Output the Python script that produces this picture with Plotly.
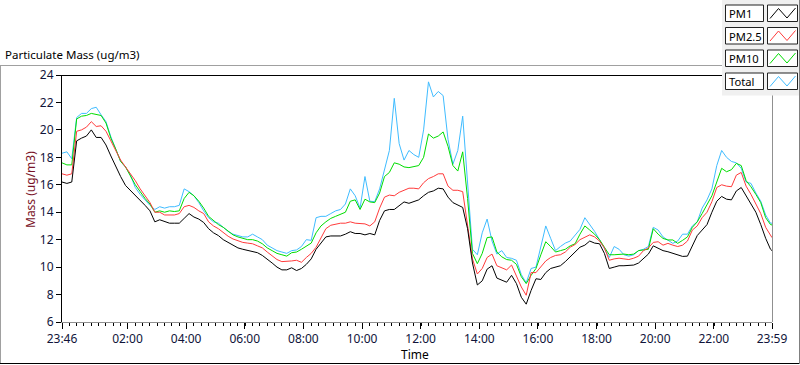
import plotly.graph_objects as go
import pandas as pd

# ---------------- data ----------------
start_time = "2024-01-01 23:46"
sample_minutes = list(range(0, 1451, 10)) + [1453]   # minutes after start

pm1 = [16.2, 16.1, 16.2, 19.2, 19.4, 19.55, 20.0, 19.45, 19.45, 18.9,
       18.1, 17.3, 16.6, 15.95, 15.6, 15.2, 14.85, 14.5, 14.1, 13.3,
       13.45, 13.3, 13.2, 13.2, 13.2, 13.55, 13.9, 13.65, 13.5, 13.25,
       12.8, 12.5, 12.3, 12.0, 11.8, 11.6, 11.4, 11.3, 11.2, 11.15,
       11.05, 10.85, 10.6, 10.3, 10.0, 9.8, 9.8, 9.95, 9.75, 9.9,
       10.2, 10.6, 11.3, 11.75, 12.2, 12.27, 12.27, 12.27, 12.4, 12.58,
       12.45, 12.45, 12.35, 12.45, 12.35, 13.4, 14.1, 14.2, 14.2, 14.5,
       14.75, 14.65, 14.75, 14.9, 15.2, 15.45, 15.55, 15.75, 15.7, 15.1,
       14.7, 14.55, 14.35, 12.8, 10.3, 8.7, 9.0, 9.85, 10.1, 9.2,
       9.06, 8.9, 9.4, 8.8, 7.8, 7.3, 8.3, 9.15, 9.1, 9.6,
       9.9, 10.0, 10.1, 10.4, 10.75, 11.05, 11.45, 11.6, 11.9, 11.75,
       11.7, 11.0, 9.9, 10.0, 10.1, 10.1, 10.15, 10.15, 10.3, 10.6,
       10.95, 11.55, 11.4, 11.2, 11.12, 11.0, 10.85, 10.78, 10.8, 11.6,
       12.3, 12.7, 13.1, 14.0, 14.8, 15.15, 14.95, 14.9, 15.55, 15.8,
       15.2, 14.6, 14.0, 13.1, 12.1, 11.3, 11.2]

pm25 = [16.8, 16.7, 16.8, 19.9, 20.0, 20.2, 20.6, 20.25, 20.3, 19.9,
        19.2, 18.5, 17.8, 17.3, 16.8, 16.3, 15.7, 15.2, 14.7, 14.0,
        14.0, 13.8, 13.8, 13.8, 13.9, 14.4, 14.5, 14.35, 14.1, 13.9,
        13.3, 13.0, 12.8, 12.5, 12.25, 12.05, 11.9, 11.8, 11.75, 11.7,
        11.55, 11.4, 11.1, 10.85, 10.55, 10.4, 10.4, 10.45, 10.5, 10.35,
        10.7, 11.0, 11.45, 12.1, 12.8, 13.05, 13.15, 13.2, 13.2, 13.3,
        13.2, 13.2, 13.15, 13.0, 13.3, 14.3, 15.1, 15.25, 15.2, 15.45,
        15.6, 15.75, 15.75, 15.7, 16.15, 16.45, 16.6, 16.8, 16.8, 15.9,
        15.6, 15.6, 15.5, 12.95, 10.6, 9.5, 9.9, 10.7, 10.95, 10.1,
        9.95, 9.8, 10.15, 9.4, 8.55, 7.95, 9.6, 9.6, 10.0, 10.45,
        10.7, 10.85, 10.9, 11.1, 11.45, 11.65, 12.0, 12.15, 12.35, 12.2,
        11.9, 11.4, 10.5, 10.6, 10.65, 10.6, 10.55, 10.65, 10.8, 11.2,
        11.4, 11.8, 11.85, 11.6, 11.73, 11.6, 11.5, 11.6, 11.9, 12.7,
        13.0, 13.6, 14.0, 14.77, 15.8, 16.0, 15.9, 15.86, 16.7, 16.9,
        15.9, 15.3, 14.6, 13.9, 12.9, 12.3, 12.15]

pm10 = [17.6, 17.45, 17.45, 20.8, 21.0, 21.05, 21.2, 21.1, 21.05, 20.5,
        19.4, 18.6, 17.7, 17.3, 16.6, 16.0, 15.5, 15.0, 14.6, 14.0,
        14.1, 14.0, 14.1, 14.05, 14.1, 15.0, 15.45, 15.2, 14.8, 14.3,
        13.7, 13.4, 13.1, 12.9, 12.6, 12.35, 12.2, 12.1, 12.0, 12.0,
        11.9, 11.7, 11.4, 11.2, 11.0, 10.9, 10.8, 11.05, 11.1, 11.3,
        11.5, 11.75, 12.5, 13.0, 13.3, 13.55, 13.7, 13.85, 14.0, 14.8,
        14.9, 14.2, 14.95, 14.75, 14.7, 15.4, 16.6, 16.9, 17.6, 17.5,
        17.3, 17.25, 17.3, 17.4, 18.0, 19.7, 19.4, 19.55, 19.85, 18.8,
        17.4, 17.0, 18.4, 15.0, 11.0, 10.25, 11.0, 12.15, 12.2, 11.1,
        10.75, 10.55, 10.5, 10.2, 9.3, 8.8, 9.4, 9.9, 10.9, 11.85,
        11.5, 11.1, 11.2, 11.3, 11.55, 11.7, 12.4, 13.0, 12.7, 12.4,
        12.0, 11.4, 10.9, 10.9, 10.95, 10.95, 10.9, 10.95, 11.2, 11.24,
        11.3, 12.8, 12.4, 12.09, 11.98, 11.98, 11.73, 11.95, 12.2, 12.9,
        13.3, 13.9, 14.5, 15.2, 16.2, 17.2, 16.95, 17.1, 17.56, 17.4,
        16.3, 15.85, 15.3, 14.7, 13.6, 13.1, 13.07]

total = [18.3, 18.4, 17.9, 20.9, 21.2, 21.2, 21.55, 21.65, 21.1, 20.6,
         19.5, 18.6, 17.7, 17.3, 16.7, 15.8, 15.3, 14.9, 14.5, 14.2,
         14.4, 14.3, 14.4, 14.4, 14.5, 15.7, 15.5, 15.2, 14.7, 14.1,
         13.6, 13.3, 13.2, 12.9, 12.6, 12.4, 12.3, 12.2, 12.2, 12.4,
         12.2, 12.0, 11.6, 11.4, 11.2, 11.1, 11.0, 11.2, 11.25, 11.5,
         12.0, 11.95, 13.6, 13.7, 13.7, 13.9, 14.1, 14.2, 14.6, 15.7,
         15.2, 14.3, 16.6, 14.8, 14.77, 15.7, 17.2, 18.5, 22.3, 19.0,
         17.8, 18.5, 18.2, 18.0, 20.0, 23.5, 22.4, 22.8, 22.5, 19.3,
         17.5, 18.5, 21.0, 15.9, 11.3, 10.9, 12.5, 13.5, 11.9, 10.95,
         11.2, 10.7, 10.64, 10.5, 9.45, 8.85, 9.9, 10.0, 11.6, 13.0,
         12.1, 11.2, 11.5, 11.75, 11.9, 12.3, 12.75, 13.6, 13.1, 12.6,
         12.0, 11.3, 10.7, 11.5, 11.3, 10.9, 10.8, 10.9, 11.2, 11.3,
         11.5, 12.9, 12.7, 12.2, 11.98, 11.73, 11.9, 12.4, 12.4, 13.0,
         13.3, 14.3, 14.9, 15.7, 17.4, 18.5, 18.0, 17.7, 17.6, 17.2,
         16.2, 16.1, 15.4, 14.8, 13.8, 13.2, 13.2]

series_names = ["PM1", "PM2.5", "PM10", "Total"]
series_colors = ["#000000", "#ff3b3b", "#00dd00", "#3fbcff"]

tick_times = ["2024-01-01 23:46", "2024-01-02 02:00", "2024-01-02 04:00",
              "2024-01-02 06:00", "2024-01-02 08:00", "2024-01-02 10:00",
              "2024-01-02 12:00", "2024-01-02 14:00", "2024-01-02 16:00",
              "2024-01-02 18:00", "2024-01-02 20:00", "2024-01-02 22:00",
              "2024-01-02 23:59"]
tick_labels = ["23:46", "02:00", "04:00", "06:00", "08:00", "10:00", "12:00",
               "14:00", "16:00", "18:00", "20:00", "22:00", "23:59"]
y_ticks = [6, 8, 10, 12, 14, 16, 18, 20, 22, 24]

# ---------------- figure ----------------
W, H = 800, 365
L, R, T, B = 62, 772, 75, 322

def px(x):
    return (x - L) / (R - L)

def py(y):
    return (B - y) / (B - T)

t0 = pd.Timestamp(start_time)
times = [t0 + pd.Timedelta(minutes=m) for m in sample_minutes]

fig = go.Figure()
data = [pm1, pm25, pm10, total]
for name, vals, col in reversed(list(zip(series_names, data, series_colors))):
    fig.add_trace(go.Scatter(x=times, y=vals, mode="lines", name=name,
                             line=dict(color=col, width=1), showlegend=False,
                             hoverinfo="skip"))

FONT = "Noto Sans"
shapes = []

def hline(y, x0, x1, color, w=1):
    shapes.append(dict(type="line", xref="paper", yref="paper",
                       x0=px(x0), x1=px(x1), y0=py(y), y1=py(y),
                       line=dict(color=color, width=w)))

def vline(x, y0, y1, color, w=1):
    shapes.append(dict(type="line", xref="paper", yref="paper",
                       x0=px(x), x1=px(x), y0=py(y0), y1=py(y1),
                       line=dict(color=color, width=w)))

# outer frame
hline(65.5, 0, 722, "#a0a0a0")
vline(0.5, 65, 364, "#a0a0a0")
hline(363.5, 0, 800, "#000000")
vline(799.5, 0, 364, "#808080")
# plot frame (top / right)
hline(75.5, 62, 722, "#000000")
vline(772.5, 95, 322, "#909090")

# legend panel
shapes.append(dict(type="rect", xref="paper", yref="paper",
                   x0=px(722), x1=px(799), y0=py(0), y1=py(95.5),
                   fillcolor="#f0f0f0", line=dict(width=0), layer="above"))

annotations = []
row_tops = [5, 27.5, 50, 73]
row_h = 16.5
for name, col, top in zip(series_names, series_colors, row_tops):
    shapes.append(dict(type="rect", xref="paper", yref="paper",
                       x0=px(725.5), x1=px(763.5), y0=py(top), y1=py(top + row_h),
                       fillcolor="#ffffff", line=dict(color="#222222", width=1)))
    shapes.append(dict(type="rect", xref="paper", yref="paper",
                       x0=px(767.5), x1=px(797.5), y0=py(top), y1=py(top + row_h),
                       fillcolor="#ffffff", line=dict(color="#222222", width=1)))
    pts = [(770, top + 13.5), (778.5, top + 3.5), (787, top + 13), (795.5, top + 3)]
    path = "M " + " L ".join(f"{px(a)},{py(b)}" for a, b in pts)
    shapes.append(dict(type="path", xref="paper", yref="paper", path=path,
                       line=dict(color=col, width=1)))
    annotations.append(dict(xref="paper", yref="paper", x=px(727),
                            y=py(top + row_h / 2 + 0.5), text=name, showarrow=False,
                            xanchor="left", yanchor="middle",
                            font=dict(family=FONT, size=11.2, color="#000000")))

annotations.append(dict(xref="paper", yref="paper", x=px(3), y=py(55),
                        text="Particulate Mass (ug/m3)", showarrow=False,
                        xanchor="left", yanchor="middle",
                        font=dict(family=FONT, size=11.5, color="#000000")))
annotations.append(dict(xref="paper", yref="paper", x=px(30), y=py(190),
                        text="Mass (ug/m3)", showarrow=False, textangle=-90,
                        xanchor="center", yanchor="middle",
                        font=dict(family=FONT, size=12, color="#7a1428")))
annotations.append(dict(xref="paper", yref="paper", x=px(415), y=py(354),
                        text="Time", showarrow=False,
                        xanchor="center", yanchor="middle",
                        font=dict(family=FONT, size=12, color="#000000")))

fig.update_layout(
    width=W, height=H,
    margin=dict(l=L, r=W - R, t=T, b=H - B, pad=0),
    paper_bgcolor="#ffffff", plot_bgcolor="#ffffff",
    font=dict(family=FONT, size=12, color="#000000"),
    shapes=shapes, annotations=annotations,
    showlegend=False,
)
fig.update_xaxes(
    type="date",
    range=[tick_times[0], tick_times[-1]],
    tickmode="array", tickvals=tick_times, ticktext=tick_labels,
    ticks="outside", ticklen=6, tickwidth=1, tickcolor="#000000",
    showline=True, linecolor="#909090", linewidth=1,
    showgrid=False, zeroline=False,
    tickfont=dict(family=FONT, size=12, color="#10143a"),
    minor=dict(ticks="outside", ticklen=3, tickwidth=1, tickcolor="#000000",
               dtick=15 * 60 * 1000, tick0=tick_times[0], showgrid=False),
)
fig.update_yaxes(
    range=[6, 24], tickmode="array", tickvals=y_ticks,
    ticks="outside", ticklen=5, tickwidth=1, tickcolor="#000000",
    showline=True, linecolor="#000000", linewidth=1,
    showgrid=False, zeroline=False,
    tickfont=dict(family=FONT, size=12, color="#10143a"),
)

fig.write_html("out.html", config={"displayModeBar": False},
               post_script="document.body.style.margin='0';")
